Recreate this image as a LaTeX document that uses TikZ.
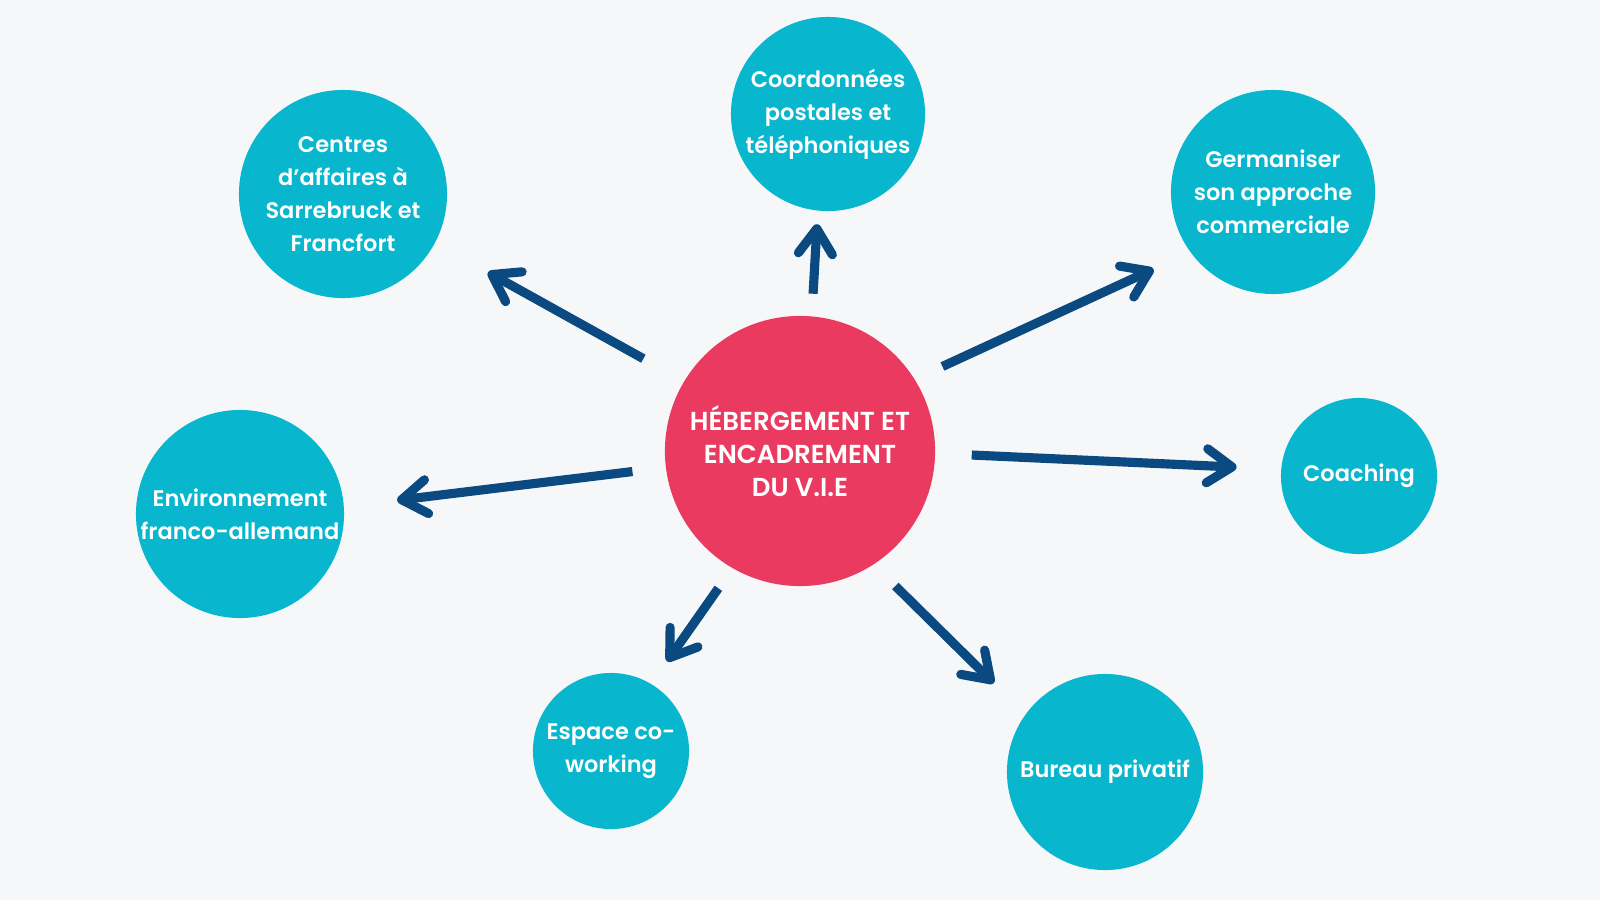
\documentclass[tikz,border=0pt]{standalone}
\usepackage{fontspec}
\setmainfont{Poppins}[BoldFont={Poppins SemiBold}]
\usepackage{xcolor}
\usepackage{tikz}
\usetikzlibrary{arrows.meta}

\definecolor{fond}{RGB}{245,247,248}
\definecolor{turquoise}{RGB}{8,182,206}
\definecolor{framboise}{RGB}{234,58,96}
\definecolor{marine}{RGB}{11,74,128}

\begin{document}
\begin{tikzpicture}[x=0.01cm, y=-0.01cm,
        bulle/.style={circle, fill=turquoise, text=white, align=center,
                      inner sep=0pt, font=\bfseries\fontsize{6.4}{9.4}\selectfont},
        centre/.style={circle, fill=framboise, text=white, align=center,
                       inner sep=0pt, minimum size=2.70cm,
                       font=\bfseries\fontsize{7.4}{9.4}\selectfont},
        fleche/.style={draw=marine, line width=2.6pt,
                       -{Straight Barb[length=2.5mm, width=3.4mm, line cap=round, line join=round]}}]
        % Fond
        \fill[fond] (0,0) rectangle (1600,900);
        % Noeud central
        \node[centre] (hub) at (800,451) {HÉBERGEMENT ET\\ENCADREMENT\\DU V.I.E};
        % Bulles autour
        \node[bulle, minimum size=1.94cm] (coord) at (828,114) {Coordonnées\\postales et\\téléphoniques};
        \node[bulle, minimum size=2.08cm] (affaires) at (343,194) {Centres\\d'affaires à\\Sarrebruck et\\Francfort};
        \node[bulle, minimum size=2.04cm] (german) at (1273,192) {Germaniser\\son approche\\commerciale};
        \node[bulle, minimum size=1.56cm] (coaching) at (1359,476) {Coaching};
        \node[bulle, minimum size=2.08cm] (environ) at (240,514) {Environnement\\franco-allemand};
        \node[bulle, minimum size=1.56cm] (cowork) at (611,751) {Espace co-\\working};
        \node[bulle, minimum size=1.96cm] (bureau) at (1105,772) {Bureau privatif};
        % Fleches depuis le centre
        \draw[fleche, shorten <=0.22cm, shorten >=0.13cm] (hub.85.6) -- (coord.264.2);
        \draw[fleche, shorten <=0.46cm, shorten >=0.60cm] (hub.149) -- (affaires.-28);
        \draw[fleche, shorten <=0.30cm, shorten >=0.40cm] (hub.32.3) -- (german.216.4);
        \draw[fleche, shorten <=0.36cm, shorten >=0.44cm] (hub.-1) -- (coaching.175.8);
        \draw[fleche, shorten <=0.33cm, shorten >=0.53cm] (hub.187.9) -- (environ.4);
        \draw[fleche, shorten <=0.24cm, shorten >=0.27cm] (hub.240.7) -- (cowork.59);
        \draw[fleche, shorten <=0.30cm, shorten >=0.44cm] (hub.-57.7) -- (bureau.144.7);
    \end{tikzpicture}
\end{document}
